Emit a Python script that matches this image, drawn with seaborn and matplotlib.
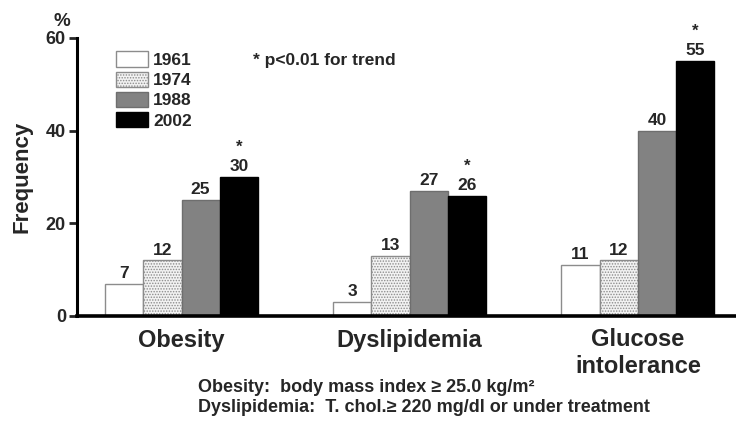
import matplotlib
matplotlib.use("Agg")
import matplotlib.pyplot as plt
from matplotlib.patches import Patch
import seaborn as sns
import pandas as pd

# Prevalence (%) of each condition by survey year
categories = ["Obesity", "Dyslipidemia", "Glucose\nintolerance"]
years = ["1961", "1974", "1988", "2002"]
freq_1961 = [7, 3, 11]
freq_1974 = [12, 13, 12]
freq_1988 = [25, 27, 40]
freq_2002 = [30, 26, 55]
trend_marks = ["*", "*", "*"]
y_ticks = [0, 20, 40, 60]

sns.set_theme(style="ticks")
plt.rcParams["font.family"] = ["Liberation Sans", "DejaVu Sans"]
plt.rcParams["font.weight"] = "bold"
plt.rcParams["hatch.linewidth"] = 0.7

rows = []
for year, vals in zip(years, [freq_1961, freq_1974, freq_1988, freq_2002]):
    for cat, v in zip(categories, vals):
        rows.append({"condition": cat, "year": year, "freq": v})
df = pd.DataFrame(rows)

W, H = 736, 426
fig = plt.figure(figsize=(W / 100, H / 100), dpi=100)
fig.patch.set_facecolor("white")
ax = fig.add_axes([77 / W, 1 - 316 / H, 1 - 77 / W, (316 - 38) / H])

face = {"1961": "white", "1974": "#f2f2f2", "1988": "#828282", "2002": "black"}
edge = {"1961": "#8c8c8c", "1974": "#8c8c8c", "1988": "#6e6e6e", "2002": "black"}
hatch = {"1961": None, "1974": "......", "1988": None, "2002": None}

sns.barplot(data=df, x="condition", y="freq", hue="year", order=categories,
            hue_order=years, palette=face, saturation=1, width=0.67, gap=0,
            errorbar=None, legend=False, ax=ax)

for year, cont in zip(years, ax.containers):
    for p in cont.patches:
        p.set_edgecolor(edge[year])
        p.set_linewidth(1.0)
        if hatch[year]:
            p.set_hatch(hatch[year])
    ax.bar_label(cont, fmt="%d", padding=2, fontsize=12.5, fontweight="bold")

# Trend markers above the 2002 bars
last = ax.containers[-1]
for p, mark in zip(last.patches, trend_marks):
    ax.annotate(mark, (p.get_x() + p.get_width() / 2, p.get_height()),
                xytext=(0, 16), textcoords="offset points", ha="center",
                va="bottom", fontsize=12, fontweight="bold")

ax.set_xlim(-0.458, 2.43)
ax.set_ylim(0, 60)
ax.set_yticks(y_ticks)
ax.tick_params(axis="y", length=6, width=2, labelsize=13, pad=2)
ax.tick_params(axis="x", length=0, labelsize=17, pad=9)
for lab in ax.get_xticklabels():
    lab.set_fontweight("bold")
    lab.set_linespacing(1.22)
for lab in ax.get_yticklabels():
    lab.set_fontweight("bold")
ax.set_xlabel("")
ax.set_ylabel("Frequency", fontsize=16, fontweight="bold")
ax.yaxis.set_label_coords(-0.068, 0.5)

sns.despine(ax=ax, top=True, right=True)
ax.spines["left"].set_linewidth(2.2)
ax.spines["bottom"].set_linewidth(2.6)
ax.spines["left"].set_color("black")
ax.spines["bottom"].set_color("black")

fig.text(62 / W, 1 - 22 / H, "%", ha="center", va="center",
         fontsize=13.5, fontweight="bold")

handles = [Patch(facecolor=face[y], edgecolor=edge[y], hatch=hatch[y],
                 linewidth=1.0, label=y) for y in years]
ax.legend(handles=handles, loc="upper left", bbox_to_anchor=(0.059, 0.952),
          frameon=False, fontsize=12.5, handlelength=1.85, handleheight=1.0,
          handletextpad=0.3, labelspacing=0.2, borderpad=0, borderaxespad=0)

fig.text(253 / W, 1 - 60 / H, "* p<0.01 for trend", ha="left", va="center",
         fontsize=12.5, fontweight="bold")

fig.text(198 / W, 1 - 387 / H, "Obesity:  body mass index \u2265 25.0 kg/m\u00b2",
         ha="left", va="center", fontsize=13, fontweight="bold")
fig.text(198 / W, 1 - 408 / H,
         "Dyslipidemia:  T. chol.\u2265 220 mg/dl or under treatment",
         ha="left", va="center", fontsize=13, fontweight="bold")

fig.savefig("out.png", dpi=100, facecolor="white")
